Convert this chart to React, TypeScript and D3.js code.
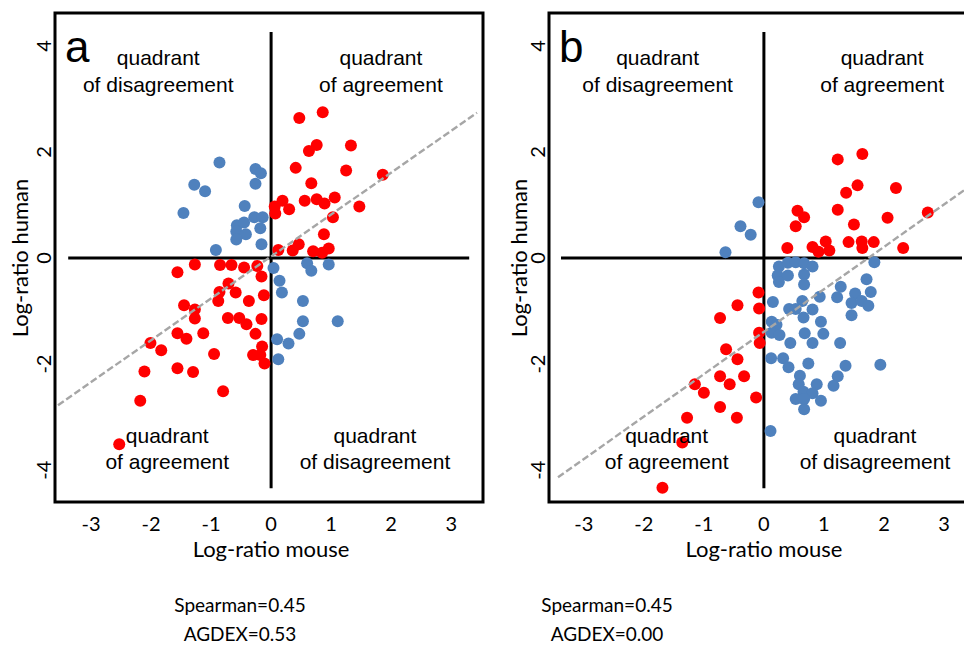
import * as d3 from 'd3'

// log-ratio (mouse, human) per gene
const A_RED: [number, number][] = [
  [0.47, 2.64], [0.86, 2.75], [0.76, 2.13], [0.63, 2.02], [1.33, 2.12], [0.41, 1.70],
  [1.25, 1.65], [1.86, 1.57], [0.67, 1.41], [0.19, 1.08], [0.06, 0.97], [0.07, 0.84],
  [0.30, 0.92], [0.56, 1.08], [0.76, 1.11], [0.89, 1.03], [1.06, 1.14], [1.47, 0.97],
  [1.03, 0.77], [0.88, 0.45], [0.46, 0.26], [0.36, 0.14], [0.12, 0.15], [0.70, 0.13],
  [0.85, 0.10], [0.96, 0.18],
  [-1.27, -0.12], [-1.56, -0.27], [-0.85, -0.13], [-0.66, -0.13], [-0.45, -0.18], [-0.23, -0.15],
  [-0.16, -0.35], [-0.71, -0.48], [-0.86, -0.64], [-0.59, -0.65], [-0.12, -0.70], [-0.88, -0.81],
  [-0.37, -0.81], [-1.45, -0.89], [-1.27, -0.97], [-1.27, -1.14], [-0.72, -1.13], [-0.53, -1.13],
  [-0.41, -1.25], [-0.16, -1.15], [-1.56, -1.42], [-1.41, -1.52], [-1.13, -1.42], [-0.26, -1.43],
  [-2.01, -1.60], [-1.83, -1.74], [-0.15, -1.67], [-0.95, -1.81], [-0.30, -1.83], [-0.18, -1.83],
  [-0.11, -1.99], [-2.11, -2.14], [-1.56, -2.08], [-1.30, -2.15], [-0.80, -2.51], [-2.18, -2.69],
  [-2.53, -3.51],
]
const A_BLUE: [number, number][] = [
  [-0.86, 1.80], [-0.26, 1.68], [-0.17, 1.60], [-0.26, 1.40], [-1.28, 1.38], [-1.10, 1.26],
  [-1.46, 0.85], [-0.44, 0.98], [-0.28, 0.77], [-0.14, 0.77], [-0.57, 0.62], [-0.45, 0.67],
  [-0.58, 0.50], [-0.42, 0.45], [-0.18, 0.56], [-0.58, 0.35], [-0.16, 0.26], [-0.92, 0.15],
  [0.04, -0.19], [0.60, -0.10], [0.67, -0.24], [0.96, -0.12], [0.14, -0.43], [0.18, -0.65],
  [0.53, -0.81], [0.53, -1.19], [1.11, -1.19], [0.47, -1.43], [0.10, -1.53], [0.29, -1.61],
  [0.12, -1.91],
]
const B_RED: [number, number][] = [
  [1.64, 1.96], [1.23, 1.86], [1.56, 1.37], [1.37, 1.23], [2.20, 1.32], [1.23, 0.91],
  [0.56, 0.89], [0.67, 0.77], [0.53, 0.60], [1.50, 0.63], [2.06, 0.76], [2.73, 0.86],
  [0.39, 0.19], [0.81, 0.21], [0.91, 0.12], [1.03, 0.31], [1.09, 0.14], [1.41, 0.30],
  [1.63, 0.31], [1.64, 0.19], [1.83, 0.30], [2.32, 0.19],
  [-0.09, -0.65], [-0.44, -0.89], [-0.08, -0.95], [-0.73, -1.13], [-0.08, -1.41], [-0.07, -1.60],
  [-0.63, -1.72], [-0.44, -1.91], [-0.73, -2.23], [-0.33, -2.23], [-1.15, -2.38], [-0.57, -2.38],
  [-1.00, -2.54], [-0.13, -2.63], [-0.73, -2.81], [-1.28, -3.01], [-0.45, -3.01], [-1.36, -3.48],
  [-1.69, -4.33],
]
const B_BLUE: [number, number][] = [
  [-0.09, 1.05], [-0.39, 0.60], [-0.22, 0.44], [-0.64, 0.11], [1.84, -0.08],
  [0.25, -0.16], [0.40, -0.09], [0.53, -0.08], [0.67, -0.10], [0.81, -0.16], [0.23, -0.33],
  [0.40, -0.33], [0.67, -0.31], [0.25, -0.45], [0.67, -0.50],
  [1.71, -0.40], [1.78, -0.64], [1.52, -0.67], [1.28, -0.54], [1.22, -0.74], [0.93, -0.73],
  [0.15, -0.83], [0.64, -0.81], [0.42, -0.96], [0.53, -0.96], [0.81, -0.97], [1.46, -0.85],
  [1.63, -0.81], [1.74, -0.90], [1.46, -1.08], [0.66, -1.12], [0.95, -1.20], [0.13, -1.20],
  [0.21, -1.26], [0.13, -1.41], [0.26, -1.45], [0.68, -1.42], [0.99, -1.43], [0.44, -1.60],
  [0.81, -1.60], [1.27, -1.60], [0.12, -1.89], [0.32, -1.89], [0.41, -2.06], [0.74, -1.99],
  [1.36, -2.03], [1.94, -2.01], [0.60, -2.22], [1.23, -2.23], [0.58, -2.38], [0.88, -2.38],
  [1.16, -2.41], [0.66, -2.52], [0.81, -2.55], [0.53, -2.66], [0.67, -2.66], [0.95, -2.69],
  [0.67, -2.85], [0.11, -3.26],
]

// dashed fit line: slope, intercept, x range
const A_FIT = { slope: 0.79, intercept: 0.03, from: -3.55, to: 3.43 }
const B_FIT = { slope: 0.8, intercept: -1.39, from: -3.43, to: 3.55 }

const X_TICKS = [-3, -2, -1, 0, 1, 2, 3]
const Y_TICKS = [-4, -2, 0, 2, 4]
const QUAD_TOP = [['quadrant', 'of disagreement'], ['quadrant', 'of agreement']]
const QUAD_BOTTOM = [['quadrant', 'of agreement'], ['quadrant', 'of disagreement']]
const A_STATS = ['Spearman=0.45', 'AGDEX=0.53']
const B_STATS = ['Spearman=0.45', 'AGDEX=0.00']

const RED = '#ff0000'
const BLUE = '#4f81bd'
const SANS = 'Lato, "Open Sans", sans-serif'
const ARIAL = '"Liberation Sans", Arial, sans-serif'

interface PanelProps {
  letter: string
  left: number
  right: number
  xDomain: [number, number]
  red: [number, number][]
  blue: [number, number][]
  fit: { slope: number; intercept: number; from: number; to: number }
  quadX: number[] // TL, TR, BL, BR label centres in data units
  yTitleX: number
  statsX: number
  stats: string[]
}

const TOP = 13
const BOTTOM = 502

function Panel(p: PanelProps) {
  const x = d3.scaleLinear().domain(p.xDomain).range([p.left, p.right])
  const y = d3.scaleLinear().domain([-4.6, 4.62]).range([BOTTOM, TOP])
  const line = d3.line<number>().x((v) => x(v)).y((v) => y(p.fit.slope * v + p.fit.intercept))
  const midY = y(0)

  return (
    <g>
      {/* quadrant axes */}
      <line x1={x(-3.38)} x2={x(3.3)} y1={y(0)} y2={y(0)} stroke="#000" strokeWidth={3} />
      <line x1={x(0)} x2={x(0)} y1={y(4.26)} y2={y(-4.34)} stroke="#000" strokeWidth={3} />

      {p.blue.map((d, i) => (
        <circle key={'b' + i} cx={x(d[0])} cy={y(d[1])} r={6} fill={BLUE} />
      ))}
      {p.red.map((d, i) => (
        <circle key={'r' + i} cx={x(d[0])} cy={y(d[1])} r={6} fill={RED} />
      ))}

      <path d={line([p.fit.from, p.fit.to]) ?? ''} fill="none" stroke="#a6a6a6" strokeWidth={2.4} strokeDasharray="7,3" />

      <rect x={p.left} y={TOP} width={p.right - p.left} height={BOTTOM - TOP} fill="none" stroke="#000" strokeWidth={3} />

      <text x={p.left + 10} y={62} fontFamily={ARIAL} fontSize={44}>{p.letter}</text>

      {QUAD_TOP.map((lines, i) => (
        <text key={'qt' + i} x={x(p.quadX[i])} textAnchor="middle" fontFamily={ARIAL} fontSize={21}>
          <tspan x={x(p.quadX[i])} y={65}>{lines[0]}</tspan>
          <tspan x={x(p.quadX[i])} y={92}>{lines[1]}</tspan>
        </text>
      ))}
      {QUAD_BOTTOM.map((lines, i) => (
        <text key={'qb' + i} x={x(p.quadX[i + 2])} textAnchor="middle" fontFamily={ARIAL} fontSize={21}>
          <tspan x={x(p.quadX[i + 2])} y={443}>{lines[0]}</tspan>
          <tspan x={x(p.quadX[i + 2])} y={469}>{lines[1]}</tspan>
        </text>
      ))}

      {X_TICKS.map((t) => (
        <text key={'xt' + t} x={x(t)} y={531} textAnchor="middle" fontFamily={SANS} fontSize={20}>{t}</text>
      ))}
      {Y_TICKS.map((t) => (
        <text key={'yt' + t} transform={`translate(${p.left - 4},${y(t)}) rotate(-90)`} textAnchor="middle"
          fontFamily={SANS} fontSize={20}>{t}</text>
      ))}

      <text x={x(0)} y={557} textAnchor="middle" fontFamily={SANS} fontSize={22}>Log-ratio mouse</text>
      <text transform={`translate(${p.yTitleX},${midY}) rotate(-90)`} textAnchor="middle" fontFamily={SANS} fontSize={22}>
        Log-ratio human
      </text>

      <text x={p.statsX} y={612} textAnchor="middle" fontFamily={SANS} fontSize={19}>{p.stats[0]}</text>
      <text x={p.statsX} y={641} textAnchor="middle" fontFamily={SANS} fontSize={19}>{p.stats[1]}</text>
    </g>
  )
}

export default function App() {
  return (
    <div style={{ position: 'absolute', left: 0, top: 0 }}>
      <svg width={964} height={652} style={{ display: 'block', background: '#fff' }}>
        <Panel letter="a" left={55} right={483} xDomain={[-3.6, 3.53]} red={A_RED} blue={A_BLUE} fit={A_FIT}
          quadX={[-1.88, 1.83, -1.73, 1.73]} yTitleX={28} statsX={240} stats={A_STATS} />
        <Panel letter="b" left={549} right={977} xDomain={[-3.58, 3.55]} red={B_RED} blue={B_BLUE} fit={B_FIT}
          quadX={[-1.77, 1.97, -1.62, 1.85]} yTitleX={527} statsX={607} stats={B_STATS} />
      </svg>
    </div>
  )
}
